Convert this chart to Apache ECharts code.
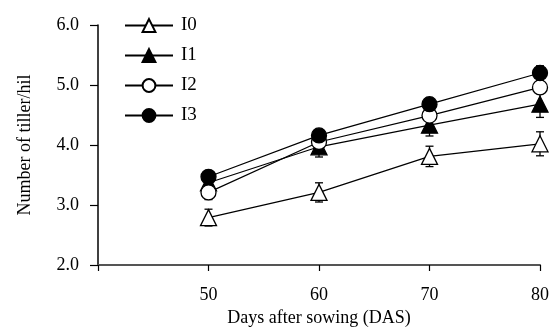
<!DOCTYPE html>
<html>
<head>
<meta charset="utf-8">
<script src="https://cdn.jsdelivr.net/npm/echarts@6/dist/echarts.min.js"></script>
<style>
  html, body { margin: 0; padding: 0; background: #fff; }
  #chart { width: 553px; height: 332px; }
</style>
</head>
<body>
<div id="chart"></div>
<script>
// days after sowing
const days = [50, 60, 70, 80];
// tiller number per hill, one list per treatment
const i0 = [2.79, 3.21, 3.81, 4.02];
const i1 = [3.37, 3.97, 4.33, 4.68];
const i2 = [3.21, 4.05, 4.49, 4.96];
const i3 = [3.47, 4.16, 4.68, 5.20];
// error bar half widths
const i0Err = [0.14, 0.16, 0.17, 0.20];
const i1Err = [0.10, 0.17, 0.18, 0.22];
const i2Err = [0.12, 0.10, 0.10, 0.10];
const i3Err = [0.06, 0.08, 0.10, 0.12];
const yTicks = [2, 3, 4, 5, 6];

const font = 'Liberation Serif';

function pairs(vals) {
  return days.map((d, i) => [d, vals[i]]);
}
function errData(vals, errs) {
  return days.map((d, i) => [d, vals[i], errs[i]]);
}

function errorBars(params, api) {
  const x = api.value(0), y = api.value(1), e = api.value(2);
  const top = api.coord([x, y + e]);
  const bot = api.coord([x, y - e]);
  const w = 4;
  const style = { stroke: '#000', lineWidth: 1.3 };
  return {
    type: 'group',
    children: [
      { type: 'line', shape: { x1: top[0], y1: top[1], x2: bot[0], y2: bot[1] }, style: style },
      { type: 'line', shape: { x1: top[0] - w, y1: top[1], x2: top[0] + w, y2: top[1] }, style: style },
      { type: 'line', shape: { x1: bot[0] - w, y1: bot[1], x2: bot[0] + w, y2: bot[1] }, style: style }
    ]
  };
}

function lineSeries(name, vals, symbol, filled, size) {
  return {
    name: name,
    type: 'line',
    data: pairs(vals),
    symbol: symbol,
    symbolSize: size,
    showAllSymbol: true,
    z: 3,
    lineStyle: { color: '#000', width: 1.2 },
    itemStyle: { color: filled ? '#000' : '#fff', borderColor: '#000', borderWidth: 1.3 }
  };
}

function errSeries(vals, errs) {
  return {
    type: 'custom',
    renderItem: errorBars,
    data: errData(vals, errs),
    z: 2,
    silent: true
  };
}

let chart = echarts.init(document.getElementById('chart'));
chart.setOption({
  animation: false,
  backgroundColor: '#fff',
  textStyle: { fontFamily: font },
  grid: { left: 98, right: 13, top: 25, bottom: 64 },
  legend: {
    orient: 'vertical',
    left: 119,
    top: 11,
    itemWidth: 48,
    itemHeight: 16,
    itemGap: 11,
    data: ['I0', 'I1', 'I2', 'I3'],
    textStyle: { fontFamily: font, fontSize: 19, color: '#000', padding: [0, 0, 0, 3] }
  },
  xAxis: {
    type: 'value',
    min: 40,
    max: 80,
    interval: 10,
    name: 'Days after sowing (DAS)',
    nameLocation: 'middle',
    nameGap: 44,
    nameTextStyle: { fontFamily: font, fontSize: 18, color: '#000' },
    splitLine: { show: false },
    axisLine: { show: true, onZero: false, lineStyle: { color: '#555', width: 2 } },
    axisTick: { show: true, length: 6, lineStyle: { color: '#000', width: 1.2 } },
    axisLabel: {
      margin: 21,
      fontFamily: font,
      fontSize: 18,
      color: '#000',
      formatter: v => (v === 40 ? '' : String(v))
    }
  },
  yAxis: {
    type: 'value',
    min: yTicks[0],
    max: yTicks[yTicks.length - 1],
    interval: 1,
    name: 'Number of tiller/hil',
    nameLocation: 'middle',
    nameGap: 64,
    nameTextStyle: { fontFamily: font, fontSize: 18, color: '#000' },
    splitLine: { show: false },
    axisLine: { show: true, onZero: false, lineStyle: { color: '#000', width: 1.5 } },
    axisTick: { show: true, length: 8, lineStyle: { color: '#000', width: 1.2 } },
    axisLabel: {
      margin: 19,
      fontFamily: font,
      fontSize: 18,
      color: '#000',
      formatter: v => v.toFixed(1)
    }
  },
  series: [
    errSeries(i0, i0Err),
    errSeries(i1, i1Err),
    errSeries(i2, i2Err),
    errSeries(i3, i3Err),
    lineSeries('I0', i0, 'triangle', false, 16),
    lineSeries('I1', i1, 'triangle', true, 16),
    lineSeries('I2', i2, 'circle', false, 15),
    lineSeries('I3', i3, 'circle', true, 15)
  ]
});
</script>
</body>
</html>
